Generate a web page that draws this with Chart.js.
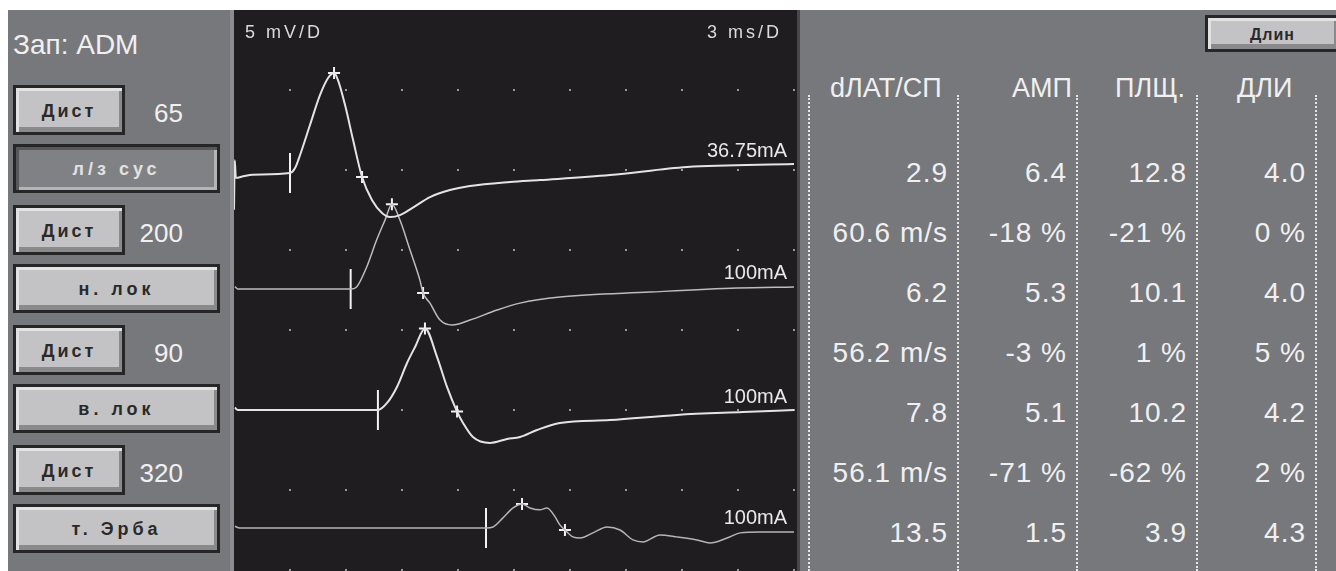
<!DOCTYPE html>
<html>
<head>
<meta charset="utf-8">
<script src="https://cdn.jsdelivr.net/npm/chart.js@4.4.1/dist/chart.umd.min.js"></script>
<style>
body { margin: 0; width: 1336px; height: 571px; background: #fff; overflow: hidden; position: relative; font-family: "Liberation Sans", Arial, sans-serif; }
.abs { position: absolute; line-height: 1; white-space: nowrap; }
#left { position: absolute; left: 8px; top: 10px; width: 222px; height: 561px; background: #77787c; border-right: 4px solid #8b8c8f; }
#right { position: absolute; left: 797px; top: 10px; width: 539px; height: 561px; background: #77787c; border-left: 3px solid #48484a; box-sizing: border-box; }
#plotBox { position: absolute; left: 234px; top: 10px; width: 563px; height: 561px; background: #1f1d1f; }
.btn { position: absolute; box-sizing: border-box; border: 3px solid #262626; background: #c3c3c5;
       box-shadow: inset 3px 3px 0 #e2e2e2, inset -3px -5px 0 #8a8a8c; color: #2a2a2a;
       font: bold 18px "Liberation Sans", Arial, sans-serif; letter-spacing: 3px;
       display: flex; align-items: center; justify-content: center; padding-top: 2px; }
.btn.on { background: #808185; color: #e2e2e2; box-shadow: inset 3px 3px 0 #58585a, inset -3px -3px 0 #b5b5b7; }
.white { color: #f0f0f0; }
.sep { position: absolute; top: 95px; height: 476px; border-left: 2px dotted #e6e6e6; }
</style>
</head>
<body>
<div id="left"></div>
<div id="plotBox"><canvas id="plot-canvas"></canvas></div>
<div id="right"></div>
<div class="abs white" style="left:13px;top:31px;font-size:28px;">Зап: ADM</div>
<div class="abs" style="left:245px;top:23px;font-size:18px;color:#dcdcdc;letter-spacing:3px;">5 mV/D</div>
<div class="abs" style="left:707px;top:23px;font-size:18px;color:#dcdcdc;letter-spacing:3px;">3 ms/D</div>
<div class="btn" style="left:1205px;top:15px;width:135px;height:37px;font-size:16px;letter-spacing:1px;">Длин</div>
<div id="ui"></div>

<script>
"use strict";

// left panel: stimulation sites and distances (mm)
const distances = [65, 200, 90, 320];
const sites = ['л/з сус', 'н. лок', 'в. лок', 'т. Эрба'];

// table on the right
const headers = ['dЛАТ/СП', 'АМП', 'ПЛЩ.', 'ДЛИ'];
const rowLatency = ['2.9', '60.6 m/s', '6.2', '56.2 m/s', '7.8', '56.1 m/s', '13.5'];
const rowAmp = ['6.4', '-18 %', '5.3', '-3 %', '5.1', '-71 %', '1.5'];
const rowArea = ['12.8', '-21 %', '10.1', '1 %', '10.2', '-62 %', '3.9'];
const rowDur = ['4.0', '0 %', '4.0', '5 %', '4.2', '2 %', '4.3'];

// traces: time in ms, amplitude in mV relative to each trace's baseline
const trace1Time = [0, 0.04, 0.1, 0.5, 1.0, 3.0, 3.27, 3.54, 4.07, 4.61, 5.04, 5.36, 5.57, 5.95, 6.38, 6.86, 7.39, 7.93, 8.36, 8.89, 9.54, 10.5, 11.57, 12.64, 14.79, 16.39, 20.14, 24.27, 30.0];
const trace1Amp = [-2.3, 0.8, -0.3, -0.2, -0.1, 0, 0.31, 1.13, 3.0, 4.88, 5.94, 6.25, 5.81, 4.25, 2.06, -0.25, -1.69, -2.5, -2.75, -2.63, -2.19, -1.5, -1.06, -0.81, -0.56, -0.44, -0.13, 0.38, 0.56];

const trace2Time = [0.05, 0.2, 6.25, 6.57, 7.11, 7.64, 8.09, 8.46, 8.89, 9.43, 9.96, 10.13, 10.5, 11.04, 11.68, 12.64, 14.09, 15.32, 17.46, 22.29, 26.95, 30.0];
const trace2Amp = [0.15, 0, 0, 0.13, 1.38, 3.06, 4.31, 5.3, 4.31, 2.44, 0.56, -0.25, -0.88, -1.94, -2.25, -1.94, -1.31, -0.88, -0.5, -0.19, 0.06, 0.13];

const trace3Time = [0.05, 0.2, 7.71, 8.2, 8.73, 9.27, 9.7, 10.23, 10.88, 11.41, 11.95, 12.27, 12.8, 13.71, 14.63, 15.32, 16.23, 17.46, 20.14, 23.73, 27.27, 30.0];
const trace3Amp = [0.15, 0, 0, 0.44, 1.44, 2.94, 3.94, 5.1, 3.31, 1.44, -0.1, -0.81, -1.69, -2.06, -1.81, -1.69, -1.25, -0.81, -0.63, -0.31, -0.13, 0];

const trace4Time = [0.05, 0.3, 13.5, 13.88, 14.41, 14.95, 15.43, 15.86, 16.39, 16.77, 17.2, 17.46, 17.73, 18.16, 18.54, 19.23, 19.98, 20.68, 21.38, 21.91, 22.82, 23.73, 24.8, 25.5, 26.41, 27.11, 28.18, 30.0];
const trace4Amp = [0.1, 0, 0, 0.06, 0.63, 1.25, 1.5, 1.25, 1.13, 1.25, 0.69, 0.19, -0.13, -0.56, -0.63, -0.31, 0.06, -0.13, -0.75, -0.88, -0.44, -0.56, -0.75, -0.94, -0.63, -0.31, -0.25, -0.25];

// markers
const onsetTime = [3.0, 6.25, 7.71, 13.5];
const peakTime = [5.36, 8.46, 10.23, 15.43];
const peakAmp = [6.25, 5.3, 5.1, 1.5];
const crossTime = [6.86, 10.13, 11.95, 17.73];
const crossAmp = [-0.25, -0.25, -0.1, -0.13];
const stimLabels = ['36.75mA', '100mA', '100mA', '100mA'];

// display layout (mV position of each baseline on the 0..35 screen, 5 mV/D)
const traceBaseline = [24.81, 17.56, 10.0, 2.63];
const traceColor = ['#e4e4e4', '#bdbdbd', '#e4e4e4', '#b5b5b5'];
const traceWidth = [2, 1.5, 2, 1.5];

// --- left panel buttons
let ui = document.getElementById('ui');
let html = '';
distances.forEach((d, i) => {
    let top = 85 + i * 120;
    html += `<div class="btn" style="left:13px;top:${top}px;width:112px;height:50px;">Дист</div>`;
    html += `<div class="abs white" style="right:${1336 - 183}px;top:${top + 15}px;font-size:26px;">${d}</div>`;
    let cls = i === 0 ? 'btn on' : 'btn';
    html += `<div class="${cls}" style="left:13px;top:${top + 59}px;width:207px;height:49px;letter-spacing:4px;">${sites[i]}</div>`;
});

// --- right table
const sepX = [808, 957, 1076, 1196, 1315];
const headerX = [830, 1012, 1115, 1237];
sepX.forEach(x => { html += `<div class="sep" style="left:${x}px;"></div>`; });
headers.forEach((h, c) => {
    html += `<div class="abs white" style="left:${headerX[c]}px;top:75px;font-size:27px;">${h}</div>`;
});
[rowLatency, rowAmp, rowArea, rowDur].forEach((col, c) => {
    col.forEach((v, r) => {
        let top = 183 + r * 60 - 24;
        html += `<div class="abs white" style="right:${1336 - (sepX[c + 1] - 9)}px;top:${top}px;font-size:28px;letter-spacing:1px;">${v}</div>`;
    });
});
ui.innerHTML = html;

// --- chart
const traces = [
    [trace1Time, trace1Amp],
    [trace2Time, trace2Amp],
    [trace3Time, trace3Amp],
    [trace4Time, trace4Amp]
];

let datasets = traces.map(([t, a], i) => ({
    label: 'trace ' + (i + 1),
    data: t.map((x, k) => ({ x: x, y: traceBaseline[i] + a[k] })),
    borderColor: traceColor[i],
    borderWidth: traceWidth[i],
    pointRadius: 0,
    fill: false,
    cubicInterpolationMode: 'monotone'
}));

datasets.push({
    label: 'onset',
    type: 'scatter',
    data: onsetTime.map((x, i) => ({ x: x, y: traceBaseline[i] })),
    pointStyle: 'line',
    rotation: 90,
    pointRadius: 20,
    borderColor: '#f2f2f2',
    borderWidth: 2
});
datasets.push({
    label: 'marks',
    type: 'scatter',
    data: peakTime.map((x, i) => ({ x: x, y: traceBaseline[i] + peakAmp[i] }))
        .concat(crossTime.map((x, i) => ({ x: x, y: traceBaseline[i] + crossAmp[i] }))),
    pointStyle: 'cross',
    pointRadius: 6,
    borderColor: '#f2f2f2',
    borderWidth: 2
});

const dotGrid = {
    id: 'dotGrid',
    beforeDatasetsDraw(chart) {
        const { ctx, scales: { x, y } } = chart;
        ctx.save();
        ctx.fillStyle = '#9a9a9a';
        for (let t = 3; t <= 30; t += 3) {
            for (let v = 0; v <= 30; v += 5) {
                ctx.fillRect(Math.round(x.getPixelForValue(t)) - 1, Math.round(y.getPixelForValue(v)) - 1, 2, 2);
            }
        }
        ctx.restore();
    }
};

const stimText = {
    id: 'stimText',
    afterDatasetsDraw(chart) {
        const { ctx, scales: { x, y } } = chart;
        ctx.save();
        ctx.fillStyle = '#e8e8e8';
        ctx.font = '20px "Liberation Sans", Arial, sans-serif';
        ctx.textAlign = 'right';
        ctx.textBaseline = 'bottom';
        stimLabels.forEach((s, i) => {
            let a = traces[i][1];
            ctx.fillText(s, x.getPixelForValue(30) - 7, y.getPixelForValue(traceBaseline[i] + a[a.length - 1]) - 3);
        });
        ctx.restore();
    }
};

let ctx = document.getElementById('plot-canvas').getContext('2d');
let chart = new Chart(ctx, {
    type: 'line',
    data: { datasets: datasets },
    options: {
        responsive: true,
        maintainAspectRatio: false,
        animation: false,
        layout: { autoPadding: false, padding: { left: 0, top: 0, right: 3, bottom: 1 } },
        scales: {
            x: { type: 'linear', min: 0, max: 30, display: false },
            y: { type: 'linear', min: 0, max: 35, display: false }
        },
        plugins: {
            legend: { display: false },
            tooltip: { enabled: false }
        }
    },
    plugins: [dotGrid, stimText]
});
</script>
</body>
</html>
